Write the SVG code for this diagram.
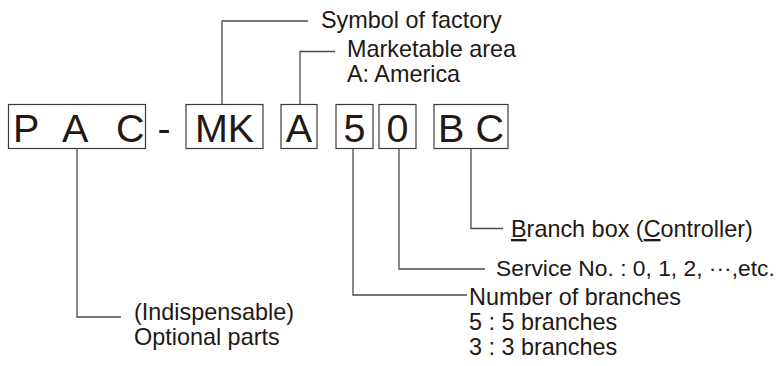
<svg xmlns="http://www.w3.org/2000/svg" width="781" height="366" viewBox="0 0 781 366">
<style>
.box{fill:none;stroke:#3e3a39;stroke-width:1.2}
.big{font-family:"Liberation Sans",Arial,sans-serif;font-size:39.5px;fill:#231815}
.lbl{font-family:"Liberation Sans",Arial,sans-serif;font-size:23.4px;fill:#231815}
.ln{fill:none;stroke:#4d4848;stroke-width:1.3}
</style>
<rect width="781" height="366" fill="#ffffff"/>
<g id="code">
<g id="pac"><rect class="box" x="8.5" y="104.5" width="137" height="44"/>
<text class="big" x="13" y="141.5">P</text><text class="big" x="62" y="141.5">A</text><text class="big" x="116" y="141.5">C</text></g>
<text class="big" x="164" y="141.5" text-anchor="middle">-</text>
<g id="mk"><rect class="box" x="186" y="104.5" width="77" height="44"/><text class="big" x="224.5" y="141.5" text-anchor="middle">MK</text></g>
<g id="a"><rect class="box" x="281" y="104.5" width="36" height="44"/><text class="big" x="299" y="141.5" text-anchor="middle">A</text></g>
<g id="n5"><rect class="box" x="336" y="104.5" width="37" height="44"/><text class="big" x="354.5" y="141.5" text-anchor="middle">5</text></g>
<g id="n0"><rect class="box" x="379" y="104.5" width="37" height="44"/><text class="big" x="397.5" y="141.5" text-anchor="middle">0</text></g>
<g id="bc"><rect class="box" x="434" y="104.5" width="74" height="44"/><text class="big" x="471" y="141.5" text-anchor="middle">B C</text></g>
</g>
<g id="connectors">
<polyline class="ln" points="222,104.5 222,21 308,21"/>
<polyline class="ln" points="300,104.5 300,51.5 335,51.5"/>
<polyline class="ln" points="77,148.5 77,317 121,317"/>
<polyline class="ln" points="353,148.5 353,295 467,295"/>
<polyline class="ln" points="399,148.5 399,269 485,269"/>
<polyline class="ln" points="471,148.5 471,228.5 503,228.5"/>
</g>
<g id="labels">
<text class="lbl" x="321" y="28">Symbol of factory</text>
<text class="lbl" x="347" y="57">Marketable area</text>
<text class="lbl" x="347" y="82">A: America</text>
<text class="lbl" x="511" y="237"><tspan text-decoration="underline">B</tspan>ranch box (<tspan text-decoration="underline">C</tspan>ontroller)</text>
<text class="lbl" x="496" y="276" style="font-size:22.8px">Service No. : 0, 1, 2, ···,etc.</text>
<text class="lbl" x="469" y="305">Number of branches</text>
<text class="lbl" x="469" y="330">5 : 5 branches</text>
<text class="lbl" x="469" y="355">3 : 3 branches</text>
<text class="lbl" x="134" y="320">(Indispensable)</text>
<text class="lbl" x="134" y="345">Optional parts</text>
</g>
</svg>
